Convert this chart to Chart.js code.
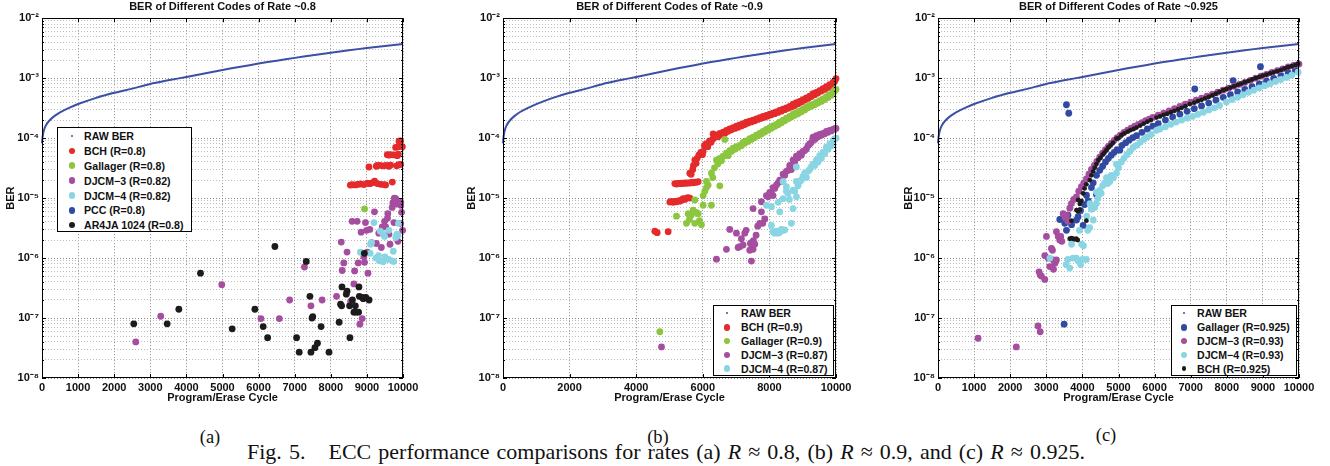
<!DOCTYPE html>
<html>
<head>
<meta charset="utf-8">
<title>BER of Different Codes</title>
<script src="https://cdn.jsdelivr.net/npm/chart.js@4.4.0/dist/chart.umd.min.js"></script>
<style>
  body { margin: 0; background: #fff; width: 1330px; height: 466px; position: relative; overflow: hidden; }
  .panel { position: absolute; top: 0; height: 410px; }
  .legend { position: absolute; border: 1px solid #000; background: #fff; box-sizing: border-box; z-index: 5;
            font: bold 10.6px "Liberation Sans", Arial, sans-serif; color: #111; }
  .legend .row { position: absolute; left: 0; right: 0; height: 14px; line-height: 14px; white-space: nowrap; }
  .legend .dot { position: absolute; border-radius: 50%; }
  .legend .txt { position: absolute; top: 0; }
  .cap { position: absolute; font-family: "Liberation Serif", "Times New Roman", serif; font-size: 18.5px; color: #111;
         white-space: nowrap; transform: translate(-50%, -50%); }
  #fig { position: absolute; left: 247px; top: 452px; transform: translateY(-50%); font-family: "Liberation Serif", serif;
         font-size: 22px; color: #111; white-space: nowrap; }
</style>
</head>
<body>
<div class="panel" id="pa" style="left:0;width:425px"><canvas id="ca"></canvas></div>
<div class="panel" id="pb" style="left:460px;width:395px"><canvas id="cb"></canvas></div>
<div class="panel" id="pc" style="left:895px;width:425px"><canvas id="cc"></canvas></div>

<div class="cap" style="left:210px;top:437px">(a)</div>
<div class="cap" style="left:658px;top:437px">(b)</div>
<div class="cap" style="left:1106px;top:435px">(c)</div>
<div id="fig">Fig. 5.<span style="display:inline-block;width:23px"></span>ECC performance comparisons for rates (a) <i>R</i> ≈ 0.8, (b) <i>R</i> ≈ 0.9, and (c) <i>R</i> ≈ 0.925.</div>

<script>
// raw BER curve (same in all three plots)
const rawCycles = [0, 20, 50, 100, 200, 350, 500, 750, 1000, 1500, 2000, 2500, 3000, 3500, 4000, 4500, 5000,
  5500, 6000, 6500, 7000, 7500, 8000, 8500, 9000, 9500, 10000];
const rawBer = [8.2e-5, 1.08e-4, 1.33e-4, 1.6e-4, 1.95e-4, 2.35e-4, 2.7e-4, 3.2e-4, 3.7e-4, 4.7e-4, 5.7e-4, 6.7e-4,
  8.0e-4, 9.2e-4, 1.05e-3, 1.2e-3, 1.37e-3, 1.55e-3, 1.75e-3, 1.96e-3, 2.18e-3, 2.42e-3, 2.66e-3, 2.92e-3, 3.18e-3, 3.45e-3, 3.72e-3];

// (a) rate ~0.8  -- [cycle, BER]
const bchA = [[8540,1.65e-5],[8593,1.67e-5],[8685,1.66e-5],[8750,1.7e-5],[8824,1.72e-5],[8917,1.68e-5],[9009,1.77e-5],
  [9080,1.74e-5],[9148,1.8e-5],[9213,1.92e-5],[9287,1.75e-5],[9380,1.7e-5],[9472,1.68e-5],[9519,1.66e-5],[9704,1.85e-5],
  [9056,3.3e-5],[9260,3.4e-5],[9287,3.5e-5],[9361,3.5e-5],[9454,3.45e-5],[9537,3.5e-5],[9611,3.4e-5],[9658,3.55e-5],
  [9824,3.45e-5],[9880,3.6e-5],[9935,3.65e-5],[9565,5.3e-5],[9610,5.2e-5],[9658,5.3e-5],[9750,5.25e-5],[9843,5.1e-5],
  [9870,5.4e-5],[9796,7.0e-5],[9870,7.2e-5],[9907,7.3e-5],[9982,7.2e-5],[9889,8.9e-5],[9935,9.0e-5]];
const gallagerA = [[8935,6.6e-6]];
const djcm3A = [[2598,4.0e-8],[3290,1.07e-7],[4980,3.6e-7],[6065,9.8e-8],[6575,9.8e-8],[6860,2.0e-7],[7270,7.1e-7],
  [7450,1.6e-7],[7760,2.0e-7],[8160,2.3e-7],[8290,1.85e-6],[8315,6.2e-7],[8360,8.3e-7],[8450,1.26e-6],[8550,1.9e-7],
  [8590,4.1e-6],[8640,3.7e-7],[8660,6.1e-7],[8730,4.1e-6],[8760,8.3e-7],[8805,7.9e-8],[8840,2.7e-6],[8870,9.8e-8],
  [8915,1.05e-6],[8935,8.5e-7],[8960,3.9e-6],[8990,2.9e-6],[9010,1.26e-6],[9030,5.6e-7],[9080,3.0e-6],[9130,1.8e-6],
  [9210,5.9e-6],[9260,1.75e-6],[9330,2.6e-6],[9400,1.5e-6],[9425,3.3e-6],[9490,4.1e-6],[9520,3.3e-6],[9570,4.6e-6],
  [9580,5.5e-6],[9610,2.5e-6],[9640,1.7e-6],[9700,7.0e-6],[9720,8.3e-6],[9750,3.9e-6],[9760,1.0e-5],[9800,9.8e-6],
  [9830,8.0e-6],[9860,1.9e-6],[9935,7.6e-6],[9935,3.8e-6],[9940,8.5e-6],[9960,5.8e-6],[9990,2.9e-6]];
const djcm4A = [[8820,1.25e-6],[9090,1.2e-6],[9100,1.7e-6],[9130,1.8e-6],[9195,3.9e-6],[9250,1.0e-6],[9320,1.1e-6],
  [9340,9.0e-7],[9370,2.8e-6],[9455,2.5e-6],[9450,8.7e-7],[9490,2.3e-6],[9500,1.05e-6],[9611,2.9e-6],[9600,9.5e-7],
  [9700,9.0e-7],[9730,1.3e-6],[9740,8.8e-7],[9800,2.2e-6],[9830,2.5e-6],[9860,2.4e-6],[9875,3.8e-6]];
const pccA = [];
const ar4jaA = [[2542,8.0e-8],[3467,8.0e-8],[3790,1.4e-7],[4390,5.6e-7],[5268,6.6e-8],[5897,1.4e-7],[6127,7.2e-8],
  [6250,4.7e-8],[6451,1.56e-6],[7052,4.7e-8],[7125,2.7e-8],[7320,8.8e-7],[7422,2.3e-7],[7480,1.0e-7],[7500,1.05e-7],
  [7450,2.7e-8],[7560,3.2e-8],[7630,3.8e-8],[7730,7.2e-8],[7950,2.7e-8],[8230,8.5e-8],[8270,1.7e-7],[8300,1.6e-7],
  [8310,3.3e-7],[8430,2.5e-7],[8450,2.8e-7],[8520,1.6e-7],[8530,4.7e-8],[8600,2.0e-7],[8640,1.25e-7],[8680,1.6e-7],
  [8700,1.25e-7],[8770,1.25e-7],[8780,3.3e-7],[8790,2.3e-7],[8870,2.2e-7],[8900,2.1e-7],[8930,1.2e-6],[8970,2.2e-7],[9060,2.0e-7]];

// (b) rate ~0.9
const bchB = [[4560,2.8e-6],[4630,2.65e-6],[4960,2.75e-6],
  [5010,8.6e-6],[5060,8.8e-6],[5110,8.5e-6],[5160,8.8e-6],[5210,8.7e-6],[5260,9.0e-6],[5310,8.9e-6],[5360,9.3e-6],
  [5410,9.8e-6],[5460,9.5e-6],[5510,1.0e-5],[5560,1.02e-5],[5610,1.0e-5],
  [5160,1.75e-5],[5210,1.72e-5],[5260,1.76e-5],[5310,1.74e-5],[5360,1.78e-5],[5410,1.75e-5],[5460,1.8e-5],[5510,1.77e-5],
  [5560,1.8e-5],[5610,1.78e-5],[5660,1.82e-5],[5710,1.8e-5],[5760,1.85e-5],[5810,1.83e-5],[5860,1.88e-5],
  [5610,2.6e-5],[5650,2.5e-5],[5700,3.0e-5],[5720,3.5e-5],[5760,4.3e-5],[5800,3.8e-5],[5830,4.6e-5],[5880,5.2e-5],
  [5940,5.8e-5],[5990,5.3e-5],[6010,6.0e-5],[6050,7.5e-5],[6100,8.0e-5],[6150,7.2e-5],[6200,9.0e-5],[6250,8.5e-5],
  [6310,1.18e-4],[6310,9.8e-5],[6360,1.05e-4],[6410,1.12e-4],[6460,1.05e-4],[6510,1.2e-4],[6560,1.15e-4],[6610,1.26e-4],
  [6660,1.2e-4],[6710,1.35e-4],[6760,1.3e-4],[6810,1.42e-4],[6860,1.38e-4],[6910,1.5e-4],[6960,1.45e-4],[7010,1.58e-4],
  [7060,1.52e-4],[7110,1.66e-4],[7160,1.6e-4],[7210,1.74e-4],[7260,1.68e-4],[7310,1.85e-4],[7360,1.78e-4],[7410,1.92e-4],
  [7460,1.86e-4],[7510,2.0e-4],[7560,1.95e-4],[7610,2.1e-4],[7660,2.05e-4],[7710,2.2e-4],[7760,2.14e-4],[7810,2.3e-4],
  [7860,2.24e-4],[7910,2.4e-4],[7960,2.33e-4],[8010,2.5e-4],[8060,2.45e-4],[8110,2.62e-4],[8160,2.56e-4],[8210,2.75e-4],
  [8260,2.68e-4],[8310,2.9e-4],[8360,2.82e-4],[8410,3.05e-4],[8460,2.98e-4],[8510,3.2e-4],[8560,3.14e-4],[8610,3.38e-4],
  [8660,3.3e-4],[8710,3.7e-4],[8760,3.5e-4],[8810,3.9e-4],[8860,3.75e-4],[8910,4.1e-4],[8960,4.0e-4],[9010,4.4e-4],
  [9060,4.3e-4],[9110,4.7e-4],[9160,4.6e-4],[9210,5.0e-4],[9260,4.95e-4],[9310,5.5e-4],[9360,5.3e-4],[9410,5.8e-4],
  [9460,5.7e-4],[9510,6.2e-4],[9560,6.1e-4],[9610,6.7e-4],[9660,6.5e-4],[9710,7.2e-4],[9760,7.0e-4],[9810,7.8e-4],
  [9860,7.6e-4],[9910,8.5e-4],[9960,8.9e-4],[10000,9.8e-4]];
const gallagerB = [[4710,5.9e-8],[5210,5.0e-6],[5510,3.8e-6],[5560,5.5e-6],[5600,4.4e-6],[5650,5.2e-6],[5710,6.3e-6],
  [5760,3.8e-6],[5760,9.3e-6],[5800,5.8e-6],[5860,5.5e-6],[5900,4.2e-6],[5960,3.6e-6],[6010,1.1e-5],[6010,7.6e-6],
  [6060,1.3e-5],[6110,1.5e-5],[6110,1.9e-5],[6160,1.65e-5],[6260,7.6e-6],[6260,2.6e-5],[6300,2.2e-5],[6350,3.2e-5],
  [6410,4.3e-5],[6450,3.7e-5],[6510,1.6e-5],[6510,4.6e-5],[6560,4.2e-5],[6610,5.0e-5],[6660,9.5e-5],[6710,5.6e-5],
  [6760,5.1e-5],[6810,6.2e-5],[6860,6.0e-5],[6910,6.8e-5],[6960,6.5e-5],[7010,7.2e-5],[7060,7.0e-5],[7110,7.6e-5],
  [7160,7.5e-5],[7210,8.5e-5],[7260,8.2e-5],[7310,9.0e-5],[7360,8.8e-5],[7410,9.8e-5],[7460,9.5e-5],[7510,1.04e-4],
  [7560,1.02e-4],[7610,1.12e-4],[7660,1.1e-4],[7710,1.2e-4],[7760,1.17e-4],[7810,1.3e-4],[7860,1.26e-4],[7910,1.4e-4],
  [7960,1.36e-4],[8010,1.5e-4],[8060,1.46e-4],[8110,1.6e-4],[8160,1.57e-4],[8210,1.7e-4],[8260,1.67e-4],[8310,1.85e-4],
  [8360,1.8e-4],[8410,2.0e-4],[8460,1.95e-4],[8510,2.15e-4],[8560,2.1e-4],[8610,2.3e-4],[8660,2.25e-4],[8710,2.5e-4],
  [8760,2.4e-4],[8810,2.65e-4],[8860,2.55e-4],[8910,2.85e-4],[8960,2.75e-4],[9010,3.05e-4],[9060,2.95e-4],[9110,3.3e-4],
  [9160,3.2e-4],[9210,3.5e-4],[9260,3.4e-4],[9310,3.7e-4],[9360,3.6e-4],[9410,3.95e-4],[9460,3.85e-4],[9510,4.2e-4],
  [9560,4.1e-4],[9610,4.5e-4],[9660,4.4e-4],[9710,4.9e-4],[9760,4.75e-4],[9810,5.3e-4],[9860,5.2e-4],[9910,5.8e-4],
  [9960,6.3e-4],[10000,6.5e-4]];
const djcm3B = [[4760,3.3e-8],[6410,9.6e-7],[6710,1.4e-6],[6810,3.0e-6],[7010,2.6e-6],[7060,1.5e-6],[7110,1.55e-6],
  [7160,2.1e-6],[7210,1.65e-6],[7260,2.6e-6],[7300,2.9e-6],[7410,1.35e-6],[7430,1.75e-6],[7460,1.8e-6],[7460,8.9e-7],
  [7490,1.55e-6],[7510,1.4e-6],[7520,1.95e-6],[7510,6.7e-6],[7560,1.7e-6],[7600,2.4e-6],[7650,3.4e-6],[7710,3.8e-6],
  [7760,8.7e-6],[7760,5.9e-6],[7800,3.8e-6],[7860,4.5e-6],[7910,1.1e-5],[7960,1.05e-5],[8010,1.25e-5],[8060,1.2e-5],
  [8110,1.1e-5],[8110,1.5e-5],[8160,1.45e-5],[8210,1.65e-5],[8260,1.8e-5],[8310,2.0e-5],[8360,1.9e-5],[8410,2.5e-5],
  [8460,2.4e-5],[8510,2.8e-5],[8560,2.9e-5],[8610,3.5e-5],[8660,3.0e-5],[8710,4.3e-5],[8760,4.0e-5],[8810,5.0e-5],
  [8860,4.7e-5],[8910,5.5e-5],[8960,5.2e-5],[9010,6.0e-5],[9060,6.2e-5],[9110,6.6e-5],[9160,7.5e-5],[9210,8.0e-5],
  [9260,8.5e-5],[9310,1.04e-4],[9360,9.5e-5],[9410,1.1e-4],[9460,1.05e-4],[9510,1.15e-4],[9560,1.12e-4],[9610,1.2e-4],
  [9660,1.18e-4],[9710,1.3e-4],[9760,1.25e-4],[9810,1.35e-4],[9860,1.32e-4],[9910,1.4e-4],[9960,1.44e-4],[10000,1.45e-4]];
const djcm4B = [[7910,7.6e-6],[8060,7.2e-6],[8060,3.5e-6],[8110,2.75e-6],[8160,2.6e-6],[8210,2.8e-6],[8260,2.6e-6],
  [8310,2.7e-6],[8262,8.5e-6],[8310,5.9e-6],[8360,3.0e-6],[8410,2.9e-6],[8410,9.8e-6],[8413,1.9e-5],[8460,2.95e-6],
  [8510,1.55e-5],[8510,1.3e-5],[8560,1.2e-5],[8600,9.5e-6],[8660,3.8e-6],[8710,6.7e-6],[8713,1.36e-5],[8760,1.3e-5],
  [8813,1.05e-5],[8810,1.9e-5],[8810,3.3e-5],[8860,1.6e-5],[8913,1.9e-5],[8960,2.0e-5],[9010,2.3e-5],[9060,2.6e-5],
  [9110,2.2e-5],[9160,2.8e-5],[9210,3.0e-5],[9260,3.3e-5],[9310,3.7e-5],[9360,3.5e-5],[9410,4.3e-5],[9460,4.0e-5],
  [9510,5.1e-5],[9560,4.6e-5],[9610,5.8e-5],[9660,5.5e-5],[9710,7.1e-5],[9760,6.5e-5],[9810,8.0e-5],[9860,7.5e-5],
  [9910,9.0e-5],[9960,9.8e-5],[10000,1.0e-4]];

// (c) rate ~0.925
const gallagerC = [[3493,7.9e-8],[3558,3.6e-4],[3622,2.6e-4],[7113,6.6e-4],[8175,9.1e-4],[8932,1.55e-3],
  [3373,4.4e-6],[3512,3.8e-6],[3558,2.9e-6],[3600,5.2e-6],[3700,3.6e-6],[3835,4.3e-6],[3881,4.9e-6],[3950,6.2e-6],
  [4020,3.5e-6],[4060,7.8e-6],[4112,1.12e-5],[4160,9.0e-6],[4250,1.5e-5],[4300,1.8e-5],[4390,1.15e-5],[4390,2.4e-5],
  [4480,2.9e-5],[4560,3.4e-5],[4640,4.0e-5],[4720,4.6e-5],[4800,5.2e-5],[4880,5.8e-5],[4960,6.4e-5],[5035,6.3e-5],
  [5100,7.6e-5],[5200,8.4e-5],[5300,9.3e-5],[5400,1.02e-4],[5500,1.1e-4],[5650,1.25e-4],[5800,1.42e-4],[5950,1.58e-4],
  [6100,1.75e-4],[6300,2.0e-4],[6500,2.25e-4],[6700,2.5e-4],[6900,2.8e-4],[7100,3.1e-4],[7300,3.45e-4],[7500,3.85e-4],
  [7700,4.3e-4],[7900,4.8e-4],[8100,5.3e-4],[8300,5.9e-4],[8500,6.5e-4],[8700,7.2e-4],[8900,8.0e-4],[9100,8.9e-4],
  [9300,9.9e-4],[9500,1.1e-3],[9700,1.22e-3],[9900,1.36e-3]];
const djcm3C = [[1110,4.6e-8],[2170,3.3e-8],[2770,7.4e-8],[2830,5.9e-8],
  [2800,5.9e-7],[2830,5.2e-7],[2865,5.0e-7],[2958,4.4e-7],[2958,1.1e-6],[3004,2.3e-6],[3050,1.0e-6],[3096,7.2e-7],
  [3142,1.45e-6],[3170,1.35e-6],[3190,9.3e-7],[3200,6.5e-7],[3240,8.2e-7],[3281,9.3e-7],[3281,2.75e-6],[3330,2.3e-6],
  [3373,2.0e-6],[3400,2.3e-6],[3430,1.9e-6],[3466,5.5e-6],[3520,4.8e-6],[3558,5.2e-6],[3604,4.1e-6],[3650,6.8e-6],
  [3696,8.1e-6],[3760,9.5e-6],[3835,1.05e-5],[3900,1.3e-5],[3973,1.55e-5],[4040,1.8e-5],[4112,2.1e-5],[4180,2.5e-5],
  [4250,3.0e-5],[4330,3.5e-5],[4400,4.1e-5],[4480,4.8e-5],[4560,5.6e-5],[4640,6.4e-5],[4720,7.3e-5],[4800,8.2e-5],
  [4880,9.2e-5],[4960,1.02e-4],[5050,1.12e-4],[5150,1.25e-4],[5250,1.36e-4],[5350,1.47e-4],[5450,1.58e-4],[5550,1.7e-4],
  [5650,1.82e-4],[5750,1.95e-4],[5850,2.08e-4],[5950,2.22e-4],[6100,2.42e-4],[6250,2.62e-4],[6400,2.85e-4],[6550,3.1e-4],
  [6700,3.38e-4],[6850,3.7e-4],[7000,4.0e-4],[7150,4.3e-4],[7300,4.65e-4],[7450,5.0e-4],[7600,5.4e-4],[7750,5.85e-4],
  [7900,6.3e-4],[8050,6.8e-4],[8200,7.3e-4],[8350,7.9e-4],[8500,8.5e-4],[8650,9.2e-4],[8800,1.0e-3],[8950,1.08e-3],
  [9100,1.16e-3],[9250,1.25e-3],[9400,1.34e-3],[9550,1.43e-3],[9700,1.54e-3],[9850,1.63e-3],[10000,1.72e-3]];
const djcm4C = [[3100,1.0e-6],[3550,7.8e-7],[3600,9.5e-7],[3650,6.8e-7],[3700,1.7e-6],[3740,1.0e-6],[3830,1.0e-6],
  [3880,9.0e-7],[3920,2.9e-6],[3950,7.8e-7],[3980,1.7e-6],[4000,9.5e-7],[4030,1.6e-6],[4110,9.5e-7],[4120,5.0e-6],
  [4150,2.9e-6],[4200,3.2e-6],[4210,8.1e-6],[4250,6.5e-6],[4300,4.3e-6],[4340,7.0e-6],[4390,8.1e-6],[4390,1.26e-5],
  [4430,1.0e-5],[4480,1.35e-5],[4520,1.2e-5],[4560,1.6e-5],[4620,1.8e-5],[4666,2.2e-5],[4700,1.75e-5],[4760,1.9e-5],
  [4800,2.4e-5],[4860,2.2e-5],[4943,2.6e-5],[4943,3.7e-5],[5000,3.2e-5],[5080,4.0e-5],[5150,4.6e-5],[5230,5.3e-5],
  [5310,6.0e-5],[5405,7.0e-5],[5500,7.6e-5],[5600,8.5e-5],[5700,9.5e-5],[5800,1.05e-4],[5900,1.15e-4],[6051,1.35e-4],
  [6150,1.42e-4],[6300,1.55e-4],[6450,1.7e-4],[6600,1.85e-4],[6750,2.0e-4],[6900,2.15e-4],[7050,2.3e-4],[7200,2.5e-4],
  [7350,2.7e-4],[7500,2.95e-4],[7650,3.2e-4],[7800,3.5e-4],[7990,4.0e-4],[8150,4.4e-4],[8300,4.8e-4],[8450,5.3e-4],
  [8600,5.8e-4],[8750,6.3e-4],[8900,6.9e-4],[9050,7.5e-4],[9200,8.1e-4],[9350,8.8e-4],[9500,9.5e-4],[9650,1.03e-3],
  [9800,1.12e-3],[9975,1.26e-3]];
const bchC = [[3650,2.1e-6],[3700,2.15e-6],[3740,2.1e-6],[3790,2.05e-6],[3830,2.1e-6],[3870,2.0e-6],[3696,4.2e-6],
  [3835,6.3e-6],[3880,6.0e-6],[3927,6.4e-6],[3881,9.3e-6],[3973,9.0e-6],[3930,8.0e-6],[4020,1.2e-5],[4060,1.45e-5],
  [4110,4.2e-6],[4110,1.7e-5],[4204,2.0e-5],[4250,2.4e-5],[4297,2.8e-5],[4340,3.2e-5],[4389,3.7e-5],[4440,4.3e-5],
  [4500,4.7e-5],[4560,5.3e-5],[4610,5.7e-5],[4666,6.3e-5],[4720,7.0e-5],[4780,7.6e-5],[4850,8.4e-5],[4943,9.8e-5],
  [5000,1.0e-4],[5080,1.12e-4],[5160,1.2e-4],[5250,1.28e-4],[5330,1.36e-4],[5420,1.42e-4],[5500,1.5e-4],[5600,1.62e-4],
  [5700,1.75e-4],[5800,1.88e-4],[5900,2.0e-4],[6050,2.2e-4],[6150,2.3e-4],[6250,2.45e-4],[6350,2.55e-4],[6450,2.7e-4],
  [6550,2.85e-4],[6650,3.0e-4],[6750,3.2e-4],[6850,3.4e-4],[6975,3.7e-4],[7100,3.9e-4],[7200,4.15e-4],[7300,4.35e-4],
  [7400,4.6e-4],[7500,4.85e-4],[7600,5.15e-4],[7700,5.5e-4],[7800,5.9e-4],[7900,6.3e-4],[7990,6.6e-4],[8100,6.95e-4],
  [8200,7.3e-4],[8300,7.7e-4],[8400,8.1e-4],[8500,8.55e-4],[8600,9.0e-4],[8700,9.5e-4],[8800,1.0e-3],[8900,1.05e-3],
  [9000,1.1e-3],[9100,1.15e-3],[9200,1.2e-3],[9300,1.25e-3],[9400,1.31e-3],[9500,1.38e-3],[9600,1.45e-3],[9700,1.52e-3],
  [9800,1.58e-3],[9900,1.66e-3],[9975,1.74e-3]];

const FONT = '"Liberation Sans", Arial, sans-serif';
const COL = { raw: '#3a50a6', red: '#e42a2b', green: '#8cc63f', purple: '#a54d9f', cyan: '#8ad5e3', blue: '#3049a3', black: '#1e1b1c' };

const panels = [
  { canvas: 'ca', host: 'pa', title: 'BER of Different Codes of Rate ~0.8', step: 1000, yWidth: 42, padRight: 22, berPad: 4,
    legend: { left: 57, top: 127, width: 135, height: 105, first: 9.3, rowH: 14.8, dotX: 15, textX: 27 },
    series: [
      ['BCH (R=0.8)', COL.red, bchA, 3.4],
      ['Gallager (R=0.8)', COL.green, gallagerA, 3.4],
      ['DJCM\u22123 (R=0.82)', COL.purple, djcm3A, 3.4],
      ['DJCM\u22124 (R=0.82)', COL.cyan, djcm4A, 3.4],
      ['PCC (R=0.8)', COL.blue, pccA, 3.4],
      ['AR4JA 1024 (R=0.8)', COL.black, ar4jaA, 3.4]
    ] },
  { canvas: 'cb', host: 'pb', title: 'BER of Different Codes of Rate ~0.9', step: 2000, yWidth: 43, padRight: 19, berPad: 5.5,
    legend: { left: 713, top: 305, width: 121, height: 71, first: 8.3, rowH: 13.9, dotX: 14, textX: 28 },
    series: [
      ['BCH (R=0.9)', COL.red, bchB, 3.4],
      ['Gallager (R=0.9)', COL.green, gallagerB, 3.4],
      ['DJCM\u22123 (R=0.87)', COL.purple, djcm3B, 3.4],
      ['DJCM\u22124 (R=0.87)', COL.cyan, djcm4B, 3.4]
    ] },
  { canvas: 'cc', host: 'pc', title: 'BER of Different Codes of Rate ~0.925', step: 1000, yWidth: 43, padRight: 21, berPad: 7.5,
    legend: { left: 1171, top: 305, width: 126, height: 71, first: 8.3, rowH: 13.9, dotX: 13, textX: 26 },
    series: [
      ['Gallager (R=0.925)', COL.blue, gallagerC, 3.4],
      ['DJCM\u22123 (R=0.93)', COL.purple, djcm3C, 3.4],
      ['DJCM\u22124 (R=0.93)', COL.cyan, djcm4C, 3.4],
      ['BCH (R=0.925)', COL.black, bchC, 2.4]
    ] }
];

// log ticks 1..9 x 10^n from 1e-8 to 1e-2
const logTicks = [];
for (let e = -8; e < -2; e++) for (let m = 1; m < 10; m++) logTicks.push(m * Math.pow(10, e));
logTicks.push(1e-2);

function isDecade(v) {
  const l = Math.log10(v);
  return Math.abs(l - Math.round(l)) < 1e-9;
}
function sup(n) {
  const m = { '-': '\u207B', '0': '\u2070', '1': '\u00B9', '2': '\u00B2', '3': '\u00B3', '4': '\u2074',
              '5': '\u2075', '6': '\u2076', '7': '\u2077', '8': '\u2078', '9': '\u2079' };
  return String(n).split('').map(c => m[c]).join('');
}

const frame = {
  id: 'frame',
  afterDraw(chart) {
    const { ctx, chartArea: a, scales: { x, y } } = chart;
    ctx.save();
    ctx.strokeStyle = '#000';
    ctx.lineWidth = 1;
    ctx.beginPath();
    x.ticks.forEach(t => {
      const px = Math.round(x.getPixelForValue(t.value)) + 0.5;
      ctx.moveTo(px, a.bottom); ctx.lineTo(px, a.bottom - 4);
      ctx.moveTo(px, a.top); ctx.lineTo(px, a.top + 4);
    });
    y.ticks.forEach(t => {
      const py = Math.round(y.getPixelForValue(t.value)) + 0.5;
      const len = isDecade(t.value) ? 4 : 2;
      ctx.moveTo(a.left, py); ctx.lineTo(a.left + len, py);
      ctx.moveTo(a.right, py); ctx.lineTo(a.right - len, py);
    });
    ctx.stroke();
    ctx.strokeRect(Math.round(a.left) + 0.5, Math.round(a.top) + 0.5, Math.round(a.width) - 1, Math.round(a.height) - 1);
    ctx.restore();
  }
};

function makeChart(p) {
  const datasets = [{
    label: 'RAW BER', type: 'line',
    data: rawCycles.map((c, i) => ({ x: c, y: rawBer[i] })),
    borderColor: COL.raw, borderWidth: 2, pointRadius: 0, fill: false, tension: 0.3, clip: false
  }];
  p.series.forEach(s => datasets.push({
    label: s[0], data: s[2].map(d => ({ x: d[0], y: d[1] })),
    backgroundColor: s[1], borderWidth: 0, pointRadius: s[3], pointStyle: 'circle', clip: false
  }));
  // later series on top, as in the original plot order
  datasets.forEach((d, i) => { d.order = datasets.length - i; });

  const tickFont = { family: FONT, size: 11, weight: 'bold' };
  new Chart(document.getElementById(p.canvas), {
    type: 'scatter',
    data: { datasets },
    options: {
      animation: false, responsive: true, maintainAspectRatio: false, events: [],
      layout: { padding: { left: 0, right: p.padRight, top: 0, bottom: 0 } },
      plugins: {
        legend: { display: false }, tooltip: { enabled: false },
        title: { display: true, fullSize: false, text: p.title, color: '#111',
                 font: { family: FONT, size: 11, weight: 'bold' }, padding: { top: 0, bottom: 5 } }
      },
      scales: {
        x: {
          type: 'linear', min: 0, max: 10000,
          afterFit: s => { s.height = 32; },
          ticks: { stepSize: p.step, autoSkip: false, maxRotation: 0, padding: 3, color: '#111', font: tickFont,
                   callback: v => String(v) },
          grid: { color: '#8a8a8a', lineWidth: 1, drawTicks: false },
          border: { display: false, dash: [1, 2] },
          title: { display: true, text: 'Program/Erase Cycle', color: '#111', font: tickFont, padding: { top: 0, bottom: 5 } }
        },
        y: {
          type: 'logarithmic', min: 1e-8, max: 1e-2,
          afterBuildTicks: s => { s.ticks = logTicks.map(v => ({ value: v })); },
          afterFit: s => { s.width = p.yWidth; },
          ticks: { autoSkip: false, padding: 3, color: '#111', font: tickFont,
                   callback: v => isDecade(v) ? '10' + sup(Math.round(Math.log10(v))) : '' },
          grid: { drawTicks: false, lineWidth: 1,
                  color: c => (c.tick && isDecade(c.tick.value)) ? '#8a8a8a' : '#bdbdbd' },
          border: { display: false, dash: [1, 2] },
          title: { display: true, text: 'BER', color: '#111', font: tickFont, padding: { top: p.berPad, bottom: 0 } }
        }
      }
    },
    plugins: [frame]
  });

  // legend box inside the axes
  const L = p.legend;
  const box = document.createElement('div');
  box.className = 'legend';
  Object.assign(box.style, { left: L.left + 'px', top: L.top + 'px', width: L.width + 'px', height: L.height + 'px' });
  const entries = [['RAW BER', COL.raw, 1.1]].concat(p.series.map(s => [s[0], s[1], s[3]]));
  entries.forEach((e, i) => {
    const row = document.createElement('div');
    row.className = 'row';
    row.style.top = (L.first + i * L.rowH - 7 - 1) + 'px';
    const dot = document.createElement('span');
    dot.className = 'dot';
    const r = e[2];
    Object.assign(dot.style, { left: (L.dotX - r - 1) + 'px', top: (7 - r) + 'px', width: 2 * r + 'px', height: 2 * r + 'px', background: e[1] });
    const txt = document.createElement('span');
    txt.className = 'txt';
    txt.style.left = (L.textX - 1) + 'px';
    txt.textContent = e[0];
    row.appendChild(dot); row.appendChild(txt);
    box.appendChild(row);
  });
  document.body.appendChild(box);
}

panels.forEach(makeChart);

// stretch the word spacing of the figure caption to the width it has in the original
const fig = document.getElementById('fig');
const figW = fig.getBoundingClientRect().width;
const gaps = (fig.textContent.match(/ /g) || []).length;
if (gaps) fig.style.wordSpacing = ((838 - figW) / gaps).toFixed(2) + 'px';
</script>
</body>
</html>
